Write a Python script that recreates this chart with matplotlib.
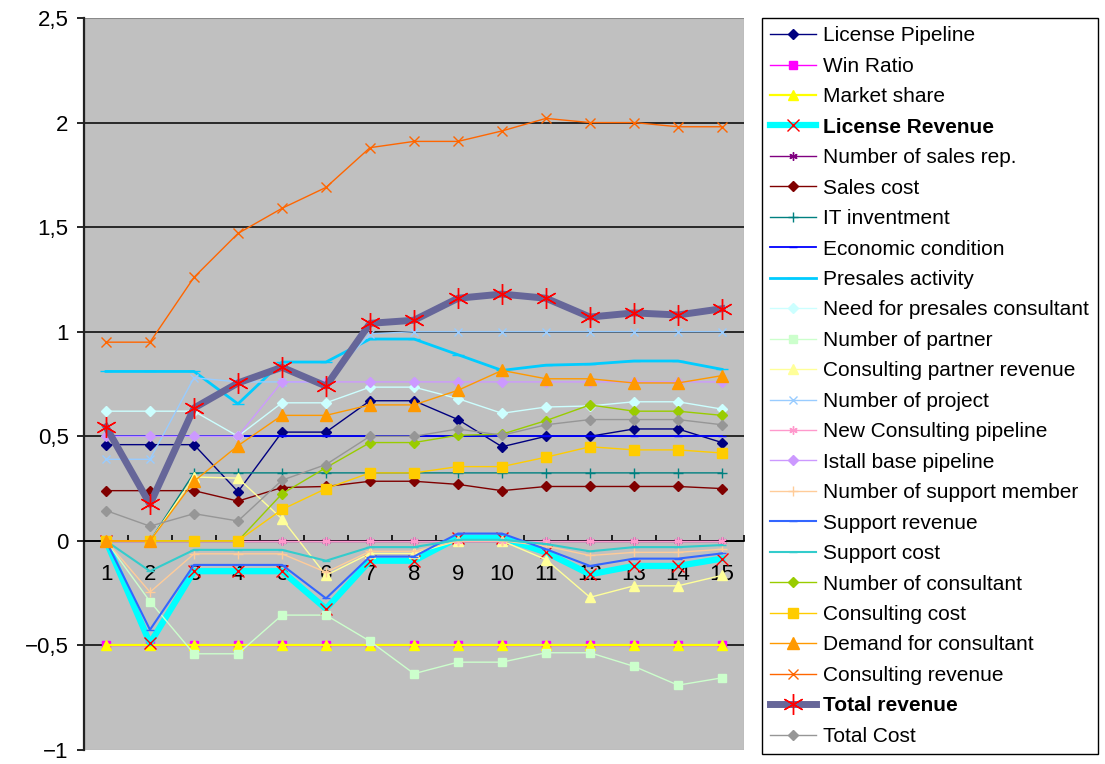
import numpy as np
import matplotlib
matplotlib.use("Agg")
import matplotlib.pyplot as plt
from matplotlib.patches import Rectangle
from matplotlib.ticker import FuncFormatter

plt.rcParams['font.family'] = ['Liberation Sans', 'DejaVu Sans']

periods = list(range(1, 16))

license_pipeline = [0.46, 0.46, 0.46, 0.235, 0.52, 0.52, 0.67, 0.67, 0.58, 0.45, 0.50, 0.50, 0.535, 0.535, 0.47]
win_ratio = [-0.5, -0.5, -0.5, -0.5, -0.5, -0.5, -0.5, -0.5, -0.5, -0.5, -0.5, -0.5, -0.5, -0.5, -0.5]
market_share = [-0.5, -0.5, -0.5, -0.5, -0.5, -0.5, -0.5, -0.5, -0.5, -0.5, -0.5, -0.5, -0.5, -0.5, -0.5]
license_revenue = [0, -0.49, -0.145, -0.145, -0.145, -0.325, -0.095, -0.095, 0.015, 0.015, -0.055, -0.16, -0.12, -0.12, -0.085]
sales_rep = [0, 0, 0, 0, 0, 0, 0, 0, 0, 0, 0, 0, 0, 0, 0]
sales_cost = [0.24, 0.24, 0.24, 0.19, 0.255, 0.26, 0.285, 0.285, 0.27, 0.24, 0.26, 0.26, 0.26, 0.26, 0.25]
it_investment = [0, 0, 0.325, 0.325, 0.325, 0.325, 0.325, 0.325, 0.325, 0.325, 0.325, 0.325, 0.325, 0.325, 0.325]
economic_condition = [0.5, 0.5, 0.5, 0.5, 0.5, 0.5, 0.5, 0.5, 0.5, 0.5, 0.5, 0.5, 0.5, 0.5, 0.5]
presales_activity = [0.81, 0.81, 0.81, 0.655, 0.855, 0.855, 0.965, 0.965, 0.89, 0.815, 0.84, 0.845, 0.86, 0.86, 0.82]
need_presales = [0.62, 0.62, 0.62, 0.50, 0.66, 0.66, 0.735, 0.735, 0.68, 0.61, 0.64, 0.645, 0.665, 0.665, 0.63]
number_partner = [0, -0.29, -0.54, -0.54, -0.355, -0.355, -0.48, -0.635, -0.58, -0.58, -0.535, -0.535, -0.60, -0.69, -0.655]
consulting_partner_rev = [0, 0, 0.305, 0.30, 0.105, -0.165, -0.06, -0.06, 0, 0, -0.09, -0.27, -0.215, -0.215, -0.165]
number_project = [0.39, 0.39, 0.78, 0.76, 0.76, 0.76, 0.99, 1.0, 1.0, 1.0, 1.0, 1.0, 1.0, 1.0, 1.0]
new_consulting = [0, 0, 0, 0, 0, 0, 0, 0, 0, 0, 0, 0, 0, 0, 0]
install_base = [0.5, 0.5, 0.5, 0.5, 0.76, 0.76, 0.76, 0.76, 0.76, 0.76, 0.76, 0.76, 0.76, 0.76, 0.76]
support_member = [0, -0.245, -0.062, -0.062, -0.062, -0.15, -0.05, -0.05, 0, 0, -0.025, -0.07, -0.055, -0.055, -0.04]
support_revenue = [0, -0.425, -0.115, -0.115, -0.115, -0.275, -0.075, -0.075, 0.035, 0.035, -0.04, -0.12, -0.085, -0.085, -0.06]
support_cost = [0, -0.145, -0.043, -0.043, -0.043, -0.095, -0.03, -0.03, 0.005, 0.005, -0.015, -0.05, -0.03, -0.03, -0.02]
number_consultant = [0, 0, 0, 0, 0.225, 0.35, 0.47, 0.47, 0.505, 0.51, 0.575, 0.65, 0.62, 0.62, 0.60]
consulting_cost = [0, 0, 0, 0, 0.15, 0.25, 0.325, 0.325, 0.355, 0.355, 0.40, 0.45, 0.435, 0.435, 0.42]
demand_consultant = [0, 0, 0.285, 0.455, 0.60, 0.60, 0.65, 0.65, 0.72, 0.815, 0.775, 0.775, 0.755, 0.755, 0.79]
consulting_revenue = [0.95, 0.95, 1.26, 1.47, 1.59, 1.69, 1.88, 1.91, 1.91, 1.96, 2.02, 2.0, 2.0, 1.98, 1.98]
total_revenue = [0.545, 0.175, 0.635, 0.755, 0.83, 0.74, 1.04, 1.055, 1.16, 1.18, 1.16, 1.07, 1.09, 1.08, 1.11]
total_cost = [0.145, 0.07, 0.13, 0.095, 0.29, 0.365, 0.50, 0.50, 0.535, 0.505, 0.555, 0.58, 0.58, 0.58, 0.555]

ast = (6, 2, 0)

# label, data, line color, line width, marker, marker size, marker face, marker edge
series = [
    ("License Pipeline", license_pipeline, '#000080', 1.0, 'D', 5, '#000080', '#000080'),
    ("Win Ratio", win_ratio, '#FF00FF', 1.0, 's', 6, '#FF00FF', '#FF00FF'),
    ("Market share", market_share, '#FFFF00', 1.6, '^', 7, '#FFFF00', '#FFFF00'),
    ("License Revenue", license_revenue, '#00FFFF', 4.5, 'x', 9, 'none', '#FF0000'),
    ("Number of sales rep.", sales_rep, '#800080', 1.0, ast, 6, '#800080', '#800080'),
    ("Sales cost", sales_cost, '#800000', 1.0, 'D', 5, '#800000', '#800000'),
    ("IT inventment", it_investment, '#008080', 1.0, '+', 7, '#008080', '#008080'),
    ("Economic condition", economic_condition, '#0000FF', 1.3, '_', 6, '#0000FF', '#0000FF'),
    ("Presales activity", presales_activity, '#00CCFF', 2.0, '_', 8, '#00CCFF', '#00CCFF'),
    ("Need for presales consultant", need_presales, '#CCFFFF', 1.0, 'D', 5, '#CCFFFF', '#CCFFFF'),
    ("Number of partner", number_partner, '#CCFFCC', 1.0, 's', 6, '#CCFFCC', '#CCFFCC'),
    ("Consulting partner revenue", consulting_partner_rev, '#FFFF99', 1.0, '^', 7, '#FFFF99', '#FFFF99'),
    ("Number of project", number_project, '#99CCFF', 1.0, 'x', 6, '#99CCFF', '#99CCFF'),
    ("New Consulting pipeline", new_consulting, '#FF99CC', 1.0, ast, 6, '#FF99CC', '#FF99CC'),
    ("Istall base pipeline", install_base, '#CC99FF', 1.0, 'D', 5, '#CC99FF', '#CC99FF'),
    ("Number of support member", support_member, '#FFCC99', 1.0, '+', 7, '#FFCC99', '#FFCC99'),
    ("Support revenue", support_revenue, '#3366FF', 1.5, '_', 6, '#3366FF', '#3366FF'),
    ("Support cost", support_cost, '#33CCCC', 1.5, '_', 6, '#33CCCC', '#33CCCC'),
    ("Number of consultant", number_consultant, '#99CC00', 1.0, 'D', 5, '#99CC00', '#99CC00'),
    ("Consulting cost", consulting_cost, '#FFCC00', 1.0, 's', 7, '#FFCC00', '#FFCC00'),
    ("Demand for consultant", demand_consultant, '#FF9900', 1.0, '^', 8, '#FF9900', '#FF9900'),
    ("Consulting revenue", consulting_revenue, '#FF6600', 1.0, 'x', 7, '#FF6600', '#FF6600'),
    ("Total revenue", total_revenue, '#666699', 5.0, ast, 15, '#FF0000', '#FF0000'),
    ("Total Cost", total_cost, '#969696', 1.0, 'D', 5, '#969696', '#969696'),
]

fig = plt.figure(figsize=(11.05, 7.64), dpi=100)
ax = fig.add_axes([84 / 1105, 1 - 750 / 764, 660 / 1105, 732 / 764])
ax.set_facecolor('#C0C0C0')

for k, (lab, vals, col, lw, mk, ms, mfc, mec) in enumerate(series):
    ax.plot(periods, vals, color=col, lw=lw, marker=mk, ms=ms, mfc=mfc, mec=mec,
            mew=1.0, label=lab, zorder=3 + k * 0.1)

ax.set_xlim(0.5, 15.5)
ax.set_ylim(-1, 2.5)
ax.set_yticks(np.arange(-1, 2.51, 0.5))
ax.yaxis.set_major_formatter(FuncFormatter(lambda v, p: f"{v:g}".replace('.', ',').replace('-', '\u2212')))
ax.tick_params(axis='y', direction='out', length=5, width=1.2, labelsize=16, pad=6)

ax.grid(axis='y', color='black', lw=1.1, zorder=1)
ax.set_axisbelow(True)
gl = ax.yaxis.get_gridlines()
gl[0].set_visible(False)
gl[-1].set_visible(False)

# category axis crossing at zero
ax.spines['bottom'].set_position(('data', 0))
ax.spines['bottom'].set_linewidth(1.2)
ax.spines['left'].set_linewidth(1.6)
ax.spines['left'].set_color('#222222')
ax.spines['top'].set_visible(False)
ax.spines['right'].set_visible(False)
ax.add_patch(Rectangle((0, 0), 1, 1, transform=ax.transAxes, fill=False,
                       edgecolor='#8a8a8a', lw=0.8, zorder=0.5))

ax.set_xticks(np.arange(0.5, 15.6, 1))
ax.set_xticklabels([])
ax.set_xticks(periods, minor=True)
ax.set_xticklabels([str(p) for p in periods], minor=True)
ax.tick_params(axis='x', which='major', direction='in', length=4.5, width=1.2)
ax.tick_params(axis='x', which='minor', length=0, labelsize=16, pad=17)

leg = fig.legend(loc='upper left', bbox_to_anchor=(762 / 1105, 1 - 18 / 764),
                 bbox_transform=fig.transFigure, borderaxespad=0, fontsize=15,
                 frameon=True, fancybox=False, edgecolor='black', framealpha=1,
                 handlelength=2.2, handletextpad=0.35, labelspacing=0.55, borderpad=0.4)
leg.get_frame().set_linewidth(1.0)
for t in leg.get_texts():
    if t.get_text() in ("License Revenue", "Total revenue"):
        t.set_fontweight('bold')

fig.savefig("out.png", dpi=100)
